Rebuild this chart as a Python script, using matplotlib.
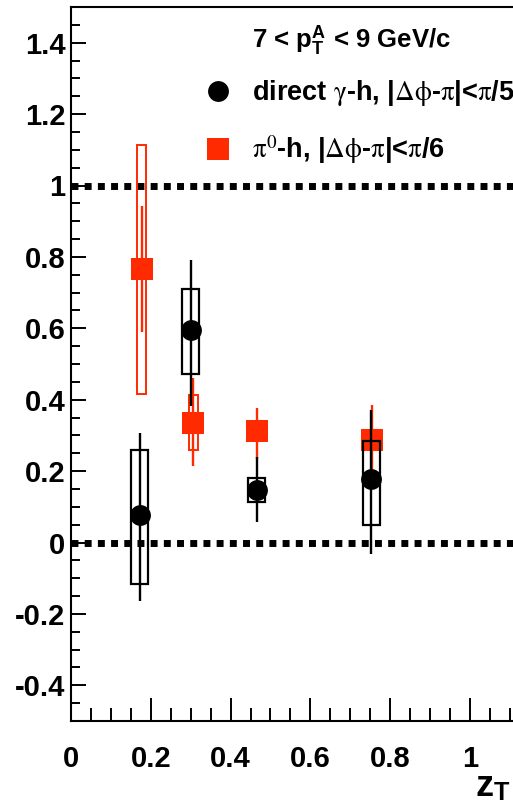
import matplotlib
matplotlib.use('Agg')
import matplotlib.pyplot as plt
from matplotlib.patches import Rectangle
from matplotlib.lines import Line2D
from matplotlib.ticker import MultipleLocator, FormatStrFormatter

plt.rcParams['font.family'] = ['Liberation Sans', 'DejaVu Sans']
plt.rcParams['mathtext.fontset'] = 'stix'
plt.rcParams['axes.unicode_minus'] = False

# direct gamma-h
gamma_x = [0.172, 0.300, 0.466, 0.753]
gamma_y = [0.078, 0.596, 0.147, 0.178]
gamma_stat_hi = [0.307, 0.792, 0.239, 0.370]
gamma_stat_lo = [-0.163, 0.383, 0.057, -0.031]
gamma_sys_hi = [0.260, 0.710, 0.180, 0.283]
gamma_sys_lo = [-0.115, 0.472, 0.113, 0.048]

# pi0-h
pi0_x = [0.177, 0.307, 0.466, 0.755]
pi0_y = [0.766, 0.335, 0.311, 0.288]
pi0_stat_hi = [0.943, 0.460, 0.377, 0.386]
pi0_stat_lo = [0.590, 0.213, 0.235, 0.190]
pi0_sys_hi = [1.113, 0.412, 0.335, 0.310]
pi0_sys_lo = [0.417, 0.260, 0.285, 0.265]

ref_lines = [1.0, 0.0]
xticks = [0, 0.2, 0.4, 0.6, 0.8, 1.0]
yticks = [-0.4, -0.2, 0, 0.2, 0.4, 0.6, 0.8, 1.0, 1.2, 1.4]

RED = '#ff2a00'

fig = plt.figure(figsize=(5.13, 8.07), dpi=100)
ax = fig.add_axes([71/513, 86/807, 442/513, 714/807])
ax.set_xlim(0, 1.108)
ax.set_ylim(-0.5, 1.5)

for y in ref_lines:
    ax.axhline(y, color='black', lw=5, linestyle=(0, (1, 0.9)), zorder=1)

# pi0 systematic boxes
for x, lo, hi in zip(pi0_x, pi0_sys_lo, pi0_sys_hi):
    ax.add_patch(Rectangle((x - 0.0105, lo), 0.021, hi - lo, fill=False,
                           edgecolor=RED, lw=1.4, zorder=2))
pi_err = [[y - l for y, l in zip(pi0_y, pi0_stat_lo)],
          [h - y for y, h in zip(pi0_y, pi0_stat_hi)]]
ax.errorbar(pi0_x, pi0_y, yerr=pi_err, fmt='s', color=RED, ms=16.5,
            mew=0, elinewidth=1.7, capsize=4.2, capthick=1.7, zorder=3)

# gamma systematic boxes
for x, lo, hi in zip(gamma_x, gamma_sys_lo, gamma_sys_hi):
    ax.add_patch(Rectangle((x - 0.0215, lo), 0.043, hi - lo, fill=False,
                           edgecolor='black', lw=1.6, zorder=4))
g_err = [[y - l for y, l in zip(gamma_y, gamma_stat_lo)],
         [h - y for y, h in zip(gamma_y, gamma_stat_hi)]]
ax.errorbar(gamma_x, gamma_y, yerr=g_err, fmt='o', color='black', ms=15,
            mew=0, elinewidth=1.7, capsize=4.2, capthick=1.7, zorder=5)

# axes styling
for s in ['left', 'bottom', 'top']:
    ax.spines[s].set_linewidth(1.5)
ax.spines['right'].set_visible(False)
ax.set_xticks(xticks)
ax.set_yticks(yticks)
ax.xaxis.set_minor_locator(MultipleLocator(0.05))
ax.yaxis.set_minor_locator(MultipleLocator(0.05))
ax.xaxis.set_major_formatter(FormatStrFormatter('%g'))
ax.yaxis.set_major_formatter(FormatStrFormatter('%g'))
ax.tick_params(axis='x', which='major', direction='in', length=16.3, width=1.4,
               pad=17, labelsize=21, top=False)
ax.tick_params(axis='x', which='minor', direction='in', length=9.1, width=1.4, top=False)
ax.tick_params(axis='y', which='major', direction='in', length=10.8, width=1.4,
               pad=4, labelsize=21, right=False)
ax.tick_params(axis='y', which='minor', direction='in', length=6.5, width=1.4, right=False)
for lab in ax.get_xticklabels() + ax.get_yticklabels():
    lab.set_fontweight('bold')

ax.set_xlabel(r'z$_{\mathregular{T}}$', fontsize=26, fontweight='bold', loc='right')
ax.xaxis.set_label_coords(0.995, -0.068)

ax.text(0.41, 0.9426, r'7 < p$_{\mathregular{T}}^{\mathregular{A}}$ < 9 GeV/c',
        transform=ax.transAxes, fontsize=18.5, fontweight='bold', va='baseline', ha='left')

handles = [Line2D([], [], marker='o', color='black', ls='none', ms=15, mew=0),
           Line2D([], [], marker='s', color=RED, ls='none', ms=16.5, mew=0)]
labels = [r'direct $\mathrm{\gamma}$-h, |$\mathrm{\Delta\phi}$-$\mathrm{\pi}$|<$\mathrm{\pi}$/5',
          r'$\mathrm{\pi}^{0}$-h, |$\mathrm{\Delta\phi}$-$\mathrm{\pi}$|<$\mathrm{\pi}$/6']
leg = ax.legend(handles, labels, loc='upper left', bbox_to_anchor=(0.303, 0.9),
                frameon=False, handlelength=1.0, handletextpad=0.72,
                borderpad=0, borderaxespad=0, labelspacing=0.92,
                prop={'weight': 'bold', 'size': 19.5})

fig.savefig('out.png', dpi=100)
